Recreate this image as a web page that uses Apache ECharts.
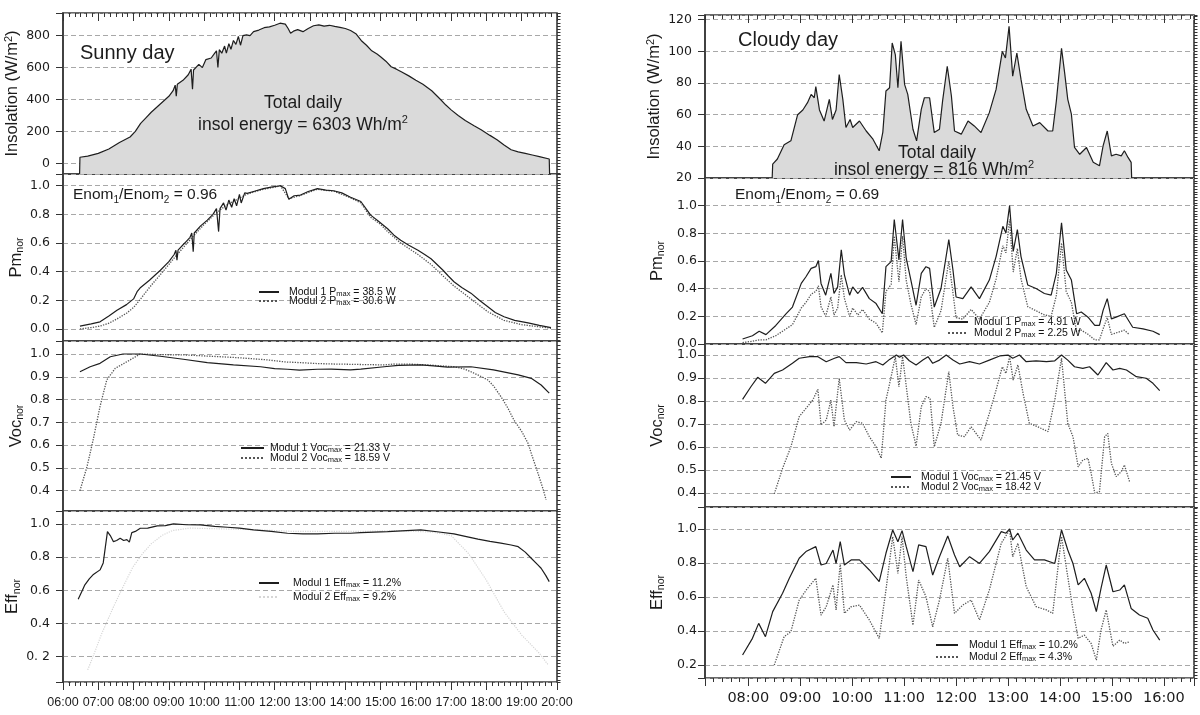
<!DOCTYPE html>
<html>
<head>
<meta charset="utf-8">
<script src="https://cdn.jsdelivr.net/npm/echarts@6/dist/echarts.min.js"></script>
<style>
  html, body { margin: 0; background: #fff; }
  #chart { width: 1200px; height: 715px; }
</style>
</head>
<body>
<div id="chart"></div>
<script>
// ---- data (hour of day, value) ----
const sunnyTimes = ['06:00', '07:00', '08:00', '09:00', '10:00', '11:00', '12:00', '13:00', '14:00', '15:00', '16:00', '17:00', '18:00', '19:00', '20:00']
const cloudyTimes = ['08:00', '09:00', '10:00', '11:00', '12:00', '13:00', '14:00', '15:00', '16:00']

const insolTicksSunny = ['0', '200', '400', '600', '800']
const insolTicksCloudy = ['20', '40', '60', '80', '100', '120']
const pmTicks = ['0.0', '0.2', '0.4', '0.6', '0.8', '1.0']
const vocTicks = ['0.4', '0.5', '0.6', '0.7', '0.8', '0.9', '1.0']
const effTicksSunny = ['0. 2', '0.4', '0.6', '0.8', '1.0']
const effTicksCloudy = ['0.2', '0.4', '0.6', '0.8', '1.0']

const sunnyInsol = [[6.47,-67],[6.48,38],[6.7,45],[7.0,62],[7.3,90],[7.6,130],[7.9,165],[8.05,200],[8.2,250],[8.35,285],[8.5,320],[8.75,370],[9.0,420],[9.12,455],[9.18,490],[9.21,420],[9.24,495],[9.4,520],[9.55,555],[9.63,590],[9.67,465],[9.7,585],[9.85,620],[9.95,600],[10.05,650],[10.2,660],[10.3,690],[10.35,705],[10.39,600],[10.43,712],[10.5,690],[10.58,735],[10.63,690],[10.7,750],[10.76,715],[10.83,770],[10.9,745],[10.97,795],[11.03,740],[11.1,800],[11.2,805],[11.3,800],[11.4,825],[11.55,835],[11.7,850],[11.85,855],[12.0,865],[12.15,878],[12.3,872],[12.38,845],[12.45,815],[12.55,830],[12.65,838],[12.8,825],[12.95,845],[13.1,862],[13.25,868],[13.4,860],[13.55,865],[13.7,858],[13.85,852],[14.0,845],[14.15,832],[14.3,812],[14.45,770],[14.6,740],[14.75,705],[14.9,685],[15.0,668],[15.15,640],[15.3,605],[15.45,590],[15.6,572],[15.8,548],[16.0,520],[16.2,495],[16.45,455],[16.7,400],[16.85,365],[17.0,335],[17.2,300],[17.4,268],[17.65,235],[17.85,210],[18.1,175],[18.3,148],[18.5,115],[18.7,85],[18.9,72],[19.1,62],[19.3,52],[19.5,42],[19.78,27],[19.79,-67]]

const sunnyPm1 = [[6.48,0.02],[6.8,0.035],[7.05,0.05],[7.3,0.09],[7.53,0.13],[7.8,0.17],[8.0,0.21],[8.1,0.26],[8.2,0.29],[8.45,0.34],[8.76,0.41],[9.0,0.47],[9.15,0.52],[9.2,0.55],[9.23,0.48],[9.26,0.55],[9.45,0.6],[9.6,0.64],[9.65,0.67],[9.69,0.54],[9.72,0.67],[9.9,0.72],[10.09,0.76],[10.25,0.8],[10.35,0.84],[10.41,0.68],[10.45,0.84],[10.55,0.88],[10.62,0.83],[10.7,0.9],[10.78,0.85],[10.85,0.91],[10.92,0.86],[11.0,0.94],[11.05,0.88],[11.15,0.95],[11.22,0.947],[11.4,0.96],[11.68,0.98],[11.9,0.99],[12.16,1.0],[12.3,0.98],[12.4,0.905],[12.55,0.93],[12.73,0.935],[12.95,0.96],[13.21,0.98],[13.45,0.97],[13.67,0.965],[13.9,0.95],[14.15,0.92],[14.44,0.89],[14.72,0.795],[14.95,0.75],[15.2,0.7],[15.38,0.655],[15.57,0.62],[15.8,0.585],[16.06,0.55],[16.25,0.52],[16.43,0.49],[16.6,0.45],[16.77,0.41],[16.92,0.37],[17.08,0.33],[17.3,0.29],[17.56,0.25],[17.8,0.2],[18.04,0.155],[18.25,0.115],[18.5,0.085],[18.8,0.06],[19.18,0.042],[19.5,0.025],[19.83,0.01]]
const sunnyPm2 = [[6.48,0.0],[6.8,0.01],[7.05,0.02],[7.3,0.04],[7.53,0.07],[7.8,0.11],[8.0,0.15],[8.2,0.21],[8.45,0.29],[8.76,0.38],[9.0,0.45],[9.2,0.51],[9.45,0.58],[9.7,0.65],[10.0,0.73],[10.3,0.8],[10.6,0.86],[10.9,0.9],[11.2,0.94],[11.6,0.97],[12.0,0.99],[12.16,1.0],[12.4,0.91],[12.7,0.93],[13.2,0.975],[13.7,0.96],[14.15,0.915],[14.44,0.88],[14.72,0.78],[15.0,0.73],[15.2,0.68],[15.57,0.6],[16.06,0.52],[16.43,0.45],[16.77,0.37],[17.08,0.3],[17.56,0.21],[18.04,0.12],[18.5,0.06],[19.0,0.03],[19.5,0.015],[19.83,0.005]]

const sunnyVoc1 = [[6.48,0.922],[6.77,0.944],[7.05,0.959],[7.34,0.988],[7.7,1.0],[8.19,1.0],[8.76,0.99],[9.41,0.977],[10.09,0.962],[10.83,0.952],[11.6,0.944],[12.0,0.936],[12.36,0.933],[12.7,0.929],[13.21,0.933],[13.6,0.934],[14.15,0.93],[14.44,0.934],[15.1,0.944],[15.5,0.95],[16.14,0.952],[16.5,0.948],[16.9,0.942],[17.56,0.944],[18.2,0.93],[18.9,0.908],[19.27,0.893],[19.55,0.864],[19.78,0.828]]
const sunnyVoc2 = [[6.48,0.4],[6.68,0.505],[6.85,0.62],[7.05,0.77],[7.24,0.886],[7.48,0.937],[7.81,0.966],[8.19,1.0],[8.8,0.997],[9.41,0.996],[10.2,0.99],[10.83,0.985],[11.3,0.98],[11.8,0.974],[12.3,0.965],[12.73,0.962],[13.2,0.958],[13.67,0.956],[14.4,0.954],[15.1,0.952],[15.38,0.956],[15.9,0.955],[16.34,0.952],[16.7,0.948],[17.08,0.944],[17.35,0.935],[17.56,0.922],[17.8,0.905],[18.04,0.886],[18.2,0.86],[18.41,0.813],[18.6,0.765],[18.78,0.71],[19.0,0.66],[19.18,0.608],[19.3,0.55],[19.46,0.477],[19.6,0.41],[19.69,0.36]]

const sunnyEff1 = [[6.43,0.546],[6.55,0.6],[6.62,0.633],[6.75,0.67],[6.85,0.693],[7.05,0.723],[7.14,0.765],[7.2,0.86],[7.26,0.954],[7.34,0.93],[7.43,0.893],[7.52,0.9],[7.62,0.914],[7.72,0.9],[7.81,0.905],[7.88,0.89],[7.95,0.948],[8.05,0.955],[8.19,0.974],[8.4,0.975],[8.67,0.988],[8.9,0.99],[9.13,1.0],[9.5,0.995],[9.89,0.994],[10.3,0.985],[10.66,0.98],[11.0,0.975],[11.4,0.964],[11.9,0.955],[12.36,0.944],[12.8,0.94],[13.21,0.94],[13.7,0.944],[14.15,0.944],[14.44,0.948],[15.2,0.954],[15.6,0.958],[16.14,0.964],[16.6,0.953],[17.08,0.94],[17.4,0.925],[17.76,0.908],[18.1,0.895],[18.41,0.884],[18.7,0.873],[18.9,0.863],[19.1,0.83],[19.27,0.793],[19.45,0.755],[19.55,0.733],[19.68,0.69],[19.78,0.652]]
const sunnyEff2 = [[6.7,0.12],[6.85,0.2],[7.1,0.34],[7.43,0.5],[7.7,0.62],[7.98,0.74],[8.25,0.82],[8.5,0.88],[8.8,0.93],[9.1,0.96],[9.6,0.975],[10.5,0.97],[11.5,0.965],[12.5,0.955],[13.5,0.955],[14.5,0.955],[15.5,0.96],[16.5,0.95],[17.0,0.93],[17.5,0.82],[18.0,0.66],[18.5,0.47],[19.0,0.33],[19.5,0.22],[19.75,0.15]]

const cloudyInsol = [[8.46,20],[8.47,28.8],[8.56,32],[8.69,41],[8.82,43.5],[8.95,60],[9.05,63],[9.14,67.6],[9.21,72.8],[9.27,70.7],[9.3,77.7],[9.37,63],[9.46,56],[9.56,69.7],[9.62,57],[9.69,63],[9.75,85.4],[9.82,69.7],[9.88,51.9],[9.96,57],[10.01,51.9],[10.14,56],[10.27,49.7],[10.4,44.5],[10.52,37.2],[10.59,49],[10.65,75],[10.72,77],[10.77,105.3],[10.83,98],[10.88,77],[10.94,106.4],[11.01,79],[11.07,72.8],[11.17,50.8],[11.24,43.5],[11.33,63.4],[11.39,70.7],[11.49,70.7],[11.58,48.7],[11.68,50.8],[11.74,68.6],[11.83,90.6],[11.91,71.8],[11.97,49.7],[12.1,47.7],[12.23,56],[12.35,52.9],[12.48,48.7],[12.64,61.3],[12.77,76],[12.89,100],[12.95,95.9],[13.02,115.8],[13.09,84.3],[13.17,99],[13.25,82.3],[13.35,63.4],[13.48,52.9],[13.61,55],[13.77,49.7],[13.86,49.7],[13.93,68.6],[14.03,102],[14.09,86.4],[14.15,69.7],[14.22,60.3],[14.28,39.3],[14.38,35],[14.51,39.3],[14.64,29.9],[14.76,27.7],[14.83,40.3],[14.91,49.7],[14.99,34],[15.08,35],[15.18,34],[15.24,37.2],[15.31,33],[15.37,29.9],[15.38,20]]

const cloudyPm1 = [[7.89,0.036],[8.08,0.06],[8.21,0.092],[8.34,0.068],[8.53,0.134],[8.73,0.219],[8.85,0.267],[9.02,0.438],[9.11,0.486],[9.21,0.547],[9.3,0.559],[9.35,0.603],[9.4,0.438],[9.49,0.353],[9.59,0.511],[9.65,0.365],[9.72,0.413],[9.79,0.681],[9.85,0.5],[9.95,0.353],[10.01,0.413],[10.11,0.365],[10.2,0.409],[10.33,0.328],[10.46,0.292],[10.58,0.219],[10.65,0.559],[10.75,0.596],[10.81,0.9],[10.9,0.608],[10.97,0.9],[11.04,0.62],[11.13,0.462],[11.23,0.28],[11.33,0.511],[11.42,0.559],[11.49,0.547],[11.58,0.267],[11.71,0.401],[11.86,0.754],[11.94,0.535],[12.0,0.34],[12.13,0.328],[12.29,0.413],[12.45,0.328],[12.64,0.462],[12.77,0.632],[12.9,0.851],[12.96,0.803],[13.03,1.0],[13.1,0.669],[13.18,0.827],[13.25,0.632],[13.38,0.426],[13.54,0.401],[13.7,0.365],[13.83,0.353],[13.93,0.511],[14.03,0.876],[14.12,0.535],[14.22,0.462],[14.32,0.219],[14.41,0.231],[14.54,0.194],[14.67,0.134],[14.76,0.134],[14.83,0.243],[14.91,0.328],[14.99,0.182],[15.08,0.194],[15.24,0.219],[15.4,0.121],[15.6,0.109],[15.79,0.092],[15.92,0.068]]
const cloudyPm2 = [[7.89,0.01],[8.08,0.02],[8.21,0.03],[8.34,0.03],[8.53,0.06],[8.73,0.11],[8.85,0.14],[9.02,0.26],[9.11,0.3],[9.21,0.36],[9.3,0.38],[9.35,0.42],[9.4,0.27],[9.49,0.2],[9.59,0.34],[9.65,0.21],[9.72,0.26],[9.79,0.5],[9.85,0.33],[9.95,0.2],[10.01,0.26],[10.11,0.21],[10.2,0.25],[10.33,0.18],[10.46,0.15],[10.58,0.08],[10.65,0.38],[10.75,0.43],[10.81,0.78],[10.9,0.45],[10.97,0.78],[11.04,0.46],[11.13,0.29],[11.23,0.14],[11.33,0.34],[11.42,0.4],[11.49,0.38],[11.58,0.12],[11.71,0.24],[11.86,0.6],[11.94,0.37],[12.0,0.19],[12.13,0.18],[12.29,0.25],[12.45,0.18],[12.64,0.3],[12.77,0.47],[12.9,0.71],[12.96,0.66],[13.03,0.9],[13.1,0.52],[13.18,0.69],[13.25,0.47],[13.38,0.27],[13.54,0.24],[13.7,0.21],[13.83,0.2],[13.93,0.35],[14.03,0.73],[14.12,0.38],[14.22,0.3],[14.32,0.09],[14.41,0.1],[14.54,0.07],[14.67,0.03],[14.76,0.03],[14.83,0.11],[14.91,0.19],[14.99,0.07],[15.08,0.08],[15.24,0.1],[15.33,0.07]]

const cloudyVoc1 = [[7.89,0.807],[8.05,0.862],[8.18,0.903],[8.33,0.877],[8.5,0.92],[8.66,0.935],[8.85,0.964],[8.98,0.986],[9.18,0.993],[9.34,0.993],[9.5,0.971],[9.66,0.986],[9.75,0.993],[9.88,0.967],[10.08,0.967],[10.27,0.961],[10.46,0.971],[10.59,0.957],[10.72,0.981],[10.85,1.0],[10.91,0.99],[10.99,1.0],[11.1,0.975],[11.23,0.957],[11.36,0.978],[11.46,0.993],[11.55,0.964],[11.68,0.978],[11.81,1.0],[11.94,0.978],[12.07,0.961],[12.26,0.971],[12.45,0.961],[12.64,0.978],[12.84,0.996],[13.0,1.0],[13.09,0.986],[13.22,1.0],[13.35,0.971],[13.54,0.975],[13.74,0.971],[13.9,0.975],[14.03,1.0],[14.15,0.978],[14.28,0.949],[14.44,0.942],[14.57,0.949],[14.73,0.913],[14.89,0.967],[15.02,0.935],[15.15,0.942],[15.28,0.935],[15.47,0.906],[15.66,0.899],[15.79,0.877],[15.92,0.845]]
const cloudyVoc2 = [[8.5,0.396],[8.66,0.507],[8.82,0.601],[8.98,0.732],[9.11,0.768],[9.24,0.804],[9.34,0.851],[9.4,0.696],[9.5,0.717],[9.59,0.804],[9.65,0.688],[9.75,0.899],[9.85,0.717],[9.95,0.674],[10.08,0.71],[10.2,0.703],[10.33,0.645],[10.46,0.601],[10.56,0.551],[10.65,0.804],[10.75,0.906],[10.83,0.993],[10.9,0.862],[10.97,0.993],[11.05,0.848],[11.13,0.703],[11.23,0.604],[11.33,0.775],[11.42,0.819],[11.5,0.812],[11.58,0.601],[11.71,0.703],[11.86,0.928],[11.94,0.775],[12.03,0.652],[12.16,0.645],[12.29,0.688],[12.48,0.63],[12.64,0.746],[12.77,0.848],[12.89,0.949],[12.96,0.92],[13.03,0.993],[13.1,0.891],[13.19,0.957],[13.29,0.833],[13.41,0.703],[13.57,0.688],[13.77,0.667],[13.9,0.804],[14.03,0.986],[14.15,0.703],[14.25,0.645],[14.35,0.514],[14.44,0.543],[14.54,0.551],[14.6,0.486],[14.67,0.399],[14.76,0.406],[14.86,0.645],[14.92,0.659],[14.99,0.529],[15.08,0.471],[15.18,0.493],[15.24,0.522],[15.34,0.449]]

const cloudyEff1 = [[7.89,0.259],[8.08,0.357],[8.2,0.445],[8.33,0.367],[8.47,0.514],[8.66,0.622],[8.79,0.71],[8.98,0.828],[9.11,0.867],[9.3,0.896],[9.4,0.788],[9.5,0.797],[9.63,0.876],[9.69,0.797],[9.77,0.925],[9.85,0.788],[9.98,0.818],[10.14,0.818],[10.33,0.759],[10.52,0.69],[10.65,0.857],[10.78,0.994],[10.88,0.925],[10.96,0.99],[11.04,0.896],[11.17,0.749],[11.28,0.906],[11.42,0.896],[11.55,0.729],[11.68,0.837],[11.84,0.959],[11.97,0.847],[12.07,0.778],[12.26,0.837],[12.45,0.797],[12.64,0.867],[12.87,0.984],[12.96,0.975],[13.03,1.0],[13.09,0.935],[13.19,0.975],[13.35,0.876],[13.51,0.818],[13.7,0.818],[13.9,0.797],[14.03,0.994],[14.15,0.876],[14.25,0.797],[14.35,0.671],[14.47,0.71],[14.6,0.622],[14.7,0.514],[14.79,0.651],[14.89,0.788],[15.02,0.631],[15.15,0.641],[15.24,0.671],[15.37,0.533],[15.53,0.494],[15.69,0.475],[15.79,0.406],[15.92,0.347]]
const cloudyEff2 = [[8.5,0.2],[8.69,0.367],[8.82,0.396],[8.98,0.582],[9.14,0.651],[9.3,0.71],[9.4,0.494],[9.5,0.543],[9.63,0.671],[9.69,0.524],[9.77,0.797],[9.85,0.504],[9.98,0.543],[10.14,0.553],[10.33,0.465],[10.52,0.357],[10.65,0.641],[10.78,0.955],[10.88,0.739],[10.96,0.955],[11.04,0.719],[11.17,0.435],[11.28,0.7],[11.42,0.602],[11.55,0.425],[11.68,0.582],[11.84,0.828],[11.97,0.504],[12.13,0.553],[12.29,0.582],[12.45,0.465],[12.64,0.641],[12.87,0.916],[13.03,0.994],[13.09,0.837],[13.19,0.916],[13.35,0.661],[13.54,0.543],[13.74,0.524],[13.86,0.504],[14.03,0.955],[14.15,0.719],[14.25,0.524],[14.35,0.357],[14.47,0.376],[14.6,0.327],[14.7,0.229],[14.79,0.406],[14.89,0.524],[15.02,0.31],[15.15,0.347],[15.24,0.327],[15.34,0.337]]

const sunnyPmNames = ['Modul 1 P{s|max} = 38.5 W', 'Modul 2 P{s|max} = 30.6 W']
const sunnyVocNames = ['Modul 1 Voc{s|max} = 21.33 V', 'Modul 2 Voc{s|max} = 18.59 V']
const sunnyEffNames = ['Modul 1 Eff{s|max} = 11.2%', 'Modul 2 Eff{s|max} = 9.2%']
const cloudyPmNames = ['Modul 1 P{s|max} = 4.91 W', 'Modul 2 P{s|max} = 2.25 W']
const cloudyVocNames = ['Modul 1 Voc{s|max} = 21.45 V', 'Modul 2 Voc{s|max} = 18.42 V']
const cloudyEffNames = ['Modul 1 Eff{s|max} = 10.2%', 'Modul 2 Eff{s|max} = 4.3%']

// ---- layout ----
const FONT = '"Liberation Sans", Arial, Helvetica, sans-serif'
const NUM = '"DejaVu Sans", sans-serif'
const INK = '#1c1c1c'
const GRID_C = '#a8a8a8'
const TICK_C = '#333'

// minorStep: spacing of the small ticks on the y axis
const panels = [
  { box: [63, 13, 494, 161], x: [6, 20], y: [-67, 942], minorStep: 20, ticks: insolTicksSunny, name: 'Insolation (W/m{p|2})', gap: 41, margin: 13 },
  { box: [63, 174, 494, 167], x: [6, 20], y: [-0.084, 1.082], minorStep: 0.02, ticks: pmTicks, name: 'Pm{s|nor}', gap: 37, margin: 13 },
  { box: [63, 341, 494, 170], x: [6, 20], y: [0.311, 1.057], minorStep: 0.02, ticks: vocTicks, name: 'Voc{s|nor}', gap: 37, margin: 13 },
  { box: [63, 511, 494, 171], x: [6, 20], y: [0.047, 1.078], minorStep: 0.02, ticks: effTicksSunny, name: 'Eff{s|nor}', gap: 37, margin: 13 },
  { box: [705, 15, 489, 163], x: [7.1667, 16.58], y: [20, 123], minorStep: 2, ticks: insolTicksCloudy, name: 'Insolation (W/m{p|2})', gap: 36, margin: 13 },
  { box: [705, 178, 489, 166], x: [7.1667, 16.58], y: [0, 1.2], minorStep: 0.02, ticks: pmTicks, name: 'Pm{s|nor}', gap: 38, margin: 8 },
  { box: [705, 344, 489, 163], x: [7.1667, 16.58], y: [0.339, 1.048], minorStep: 0.02, ticks: vocTicks, name: 'Voc{s|nor}', gap: 38, margin: 8 },
  { box: [705, 507, 489, 171], x: [7.1667, 16.58], y: [0.124, 1.129], minorStep: 0.02, ticks: effTicksCloudy, name: 'Eff{s|nor}', gap: 38, margin: 8 },
]

function tickFormatter(labels) {
  return v => labels.find(t => Math.abs(parseFloat(t.replace(/\s/g, '')) - v) < 1e-6) || ''
}
function timeFormatter(labels) {
  return v => labels.find(t => Math.abs(parseInt(t, 10) - v) < 1e-6) || ''
}

const nameRich = {
  s: { fontFamily: FONT, fontSize: 10.5, lineHeight: 10, color: INK, verticalAlign: 'bottom' },
  p: { fontFamily: FONT, fontSize: 11, lineHeight: 10, color: INK, verticalAlign: 'top' },
}

const grids = panels.map(p => ({
  show: true, left: p.box[0], top: p.box[1], width: p.box[2], height: p.box[3],
  borderColor: '#3a3a3a', borderWidth: 1.6, backgroundColor: 'transparent',
}))

const yAxes = panels.map((p, i) => ({
  type: 'value', gridIndex: i, min: p.y[0], max: p.y[1], splitNumber: 5,
  axisLine: { show: true, onZero: false, lineStyle: { color: '#3a3a3a', width: 1.6 } },
  axisTick: { show: true, inside: false, length: 7, lineStyle: { color: TICK_C } },
  axisLabel: { margin: p.margin, fontFamily: NUM, fontSize: 12.5, color: INK, formatter: tickFormatter(p.ticks), showMinLabel: true, showMaxLabel: true },
  splitLine: { show: true, lineStyle: { color: GRID_C, type: [5, 3], width: 1 } },
  name: p.name, nameLocation: 'middle', nameRotate: 90, nameGap: p.gap,
  nameTextStyle: { fontFamily: FONT, fontSize: 16.5, lineHeight: 19, color: INK, rich: nameRich },
}))
// small ticks on each y axis: a second, bare axis with a fine nice step
panels.forEach((p, i) => {
  yAxes.push({
    type: 'value', gridIndex: i, min: p.y[0], max: p.y[1],
    splitNumber: Math.round((p.y[1] - p.y[0]) / p.minorStep),
    axisLine: { show: false },
    axisTick: { show: true, inside: false, length: 3.5, lineStyle: { color: TICK_C } },
    axisLabel: { show: false }, splitLine: { show: false },
  })
})

const isBottom = i => i === 3 || i === 7
const xAxes = panels.map((p, i) => ({
  type: 'value', gridIndex: i, min: p.x[0], max: p.x[1],
  interval: i < 4 ? 1 : undefined, splitNumber: i < 4 ? undefined : 9,
  axisLine: { show: false, onZero: false },
  axisTick: { show: isBottom(i), inside: false, length: 8, lineStyle: { color: TICK_C } },
  axisLabel: {
    show: isBottom(i), margin: i < 4 ? 14 : 13,
    fontFamily: i < 4 ? FONT : NUM, fontSize: i < 4 ? 12.5 : 14.5, color: INK,
    formatter: timeFormatter(i < 4 ? sunnyTimes : cloudyTimes),
    showMinLabel: true, showMaxLabel: true,
  },
  splitLine: { show: false },
}))
// hour ticks hanging from the top border, plus 10-minute ticks top and bottom
;[0, 4].forEach(i => {
  const p = panels[i]
  xAxes.push({
    type: 'value', gridIndex: i, position: 'top', min: p.x[0], max: p.x[1],
    interval: i === 0 ? 1 : undefined, splitNumber: i === 0 ? undefined : 9,
    axisLine: { show: false, onZero: false },
    axisTick: { show: true, inside: true, length: 8, lineStyle: { color: TICK_C } },
    axisLabel: { show: false }, splitLine: { show: false },
  })
})
;[[0, 'top', true], [4, 'top', true], [3, 'bottom', false], [7, 'bottom', false]].forEach(([i, pos, inside]) => {
  const p = panels[i]
  xAxes.push({
    type: 'value', gridIndex: i, position: pos, min: p.x[0], max: p.x[1], interval: 1 / 6,
    axisLine: { show: false, onZero: false },
    axisTick: { show: true, inside, length: 4, lineStyle: { color: TICK_C } },
    axisLabel: { show: false }, splitLine: { show: false },
  })
})

const solid = { color: '#1e1e1e', width: 1.2 }
const dotted = { color: '#555', width: 1.3, type: 'dotted' }
const faint = { color: '#d6d6d6', width: 1.2, type: 'dotted' }

function line(idx, data, style, name, extra) {
  return Object.assign({
    type: 'line', name, xAxisIndex: idx, yAxisIndex: idx, data,
    symbol: 'none', lineStyle: style, silent: true, z: 3,
  }, extra || {})
}
const area = { areaStyle: { color: '#dadada', opacity: 1, origin: 'start' } }

const series = [
  line(0, sunnyInsol, solid, 'sunnyInsol', area),
  line(1, sunnyPm2, dotted, sunnyPmNames[1]),
  line(1, sunnyPm1, solid, sunnyPmNames[0]),
  line(2, sunnyVoc2, dotted, sunnyVocNames[1]),
  line(2, sunnyVoc1, solid, sunnyVocNames[0]),
  line(3, sunnyEff2, faint, sunnyEffNames[1]),
  line(3, sunnyEff1, solid, sunnyEffNames[0]),
  line(4, cloudyInsol, solid, 'cloudyInsol', area),
  line(5, cloudyPm2, dotted, cloudyPmNames[1]),
  line(5, cloudyPm1, solid, cloudyPmNames[0]),
  line(6, cloudyVoc2, dotted, cloudyVocNames[1]),
  line(6, cloudyVoc1, solid, cloudyVocNames[0]),
  line(7, cloudyEff2, dotted, cloudyEffNames[1]),
  line(7, cloudyEff1, solid, cloudyEffNames[0]),
]

function legend(names, left, top, iconW, pad, gap) {
  return {
    data: names, left, top, orient: 'vertical', selectedMode: false,
    itemWidth: iconW, itemHeight: 10, itemGap: gap, padding: 0,
    itemStyle: { opacity: 0, color: 'rgba(0,0,0,0)', borderWidth: 0 },
    textStyle: {
      fontFamily: FONT, fontSize: 10.5, lineHeight: 12, color: '#111', padding: [0, 0, 0, pad],
      rich: { s: { fontFamily: FONT, fontSize: 7.5, lineHeight: 7, color: '#111', verticalAlign: 'bottom' } },
    },
  }
}

const textRich = {
  s: { fontFamily: FONT, fontSize: 10, lineHeight: 10, fill: INK, verticalAlign: 'bottom' },
  p: { fontFamily: FONT, fontSize: 11, lineHeight: 11, fill: INK, verticalAlign: 'top' },
}
function label(text, x, y, size, align) {
  return {
    type: 'text', x, y, z: 10, silent: true,
    style: { text, font: size + 'px ' + FONT, fill: INK, align: align || 'left', verticalAlign: 'middle', lineHeight: size + 4, rich: textRich },
  }
}

const chart = echarts.init(document.getElementById('chart'))
chart.setOption({
  animation: false,
  backgroundColor: '#fff',
  grid: grids,
  xAxis: xAxes,
  yAxis: yAxes,
  legend: [
    legend(sunnyPmNames, 258, 286, 20, 5, -3),
    legend(sunnyVocNames, 240, 442, 23, 1, -2),
    legend(sunnyEffNames, 258, 577, 20, 9, 2),
    legend(cloudyPmNames, 947, 316, 20, 1, -1),
    legend(cloudyVocNames, 890, 471, 20, 5, -2),
    legend(cloudyEffNames, 935, 639, 22, 6, 0),
  ],
  series,
  graphic: [
    label('Sunny day', 80, 53, 20),
    label('Total daily', 303, 103, 17.5, 'center'),
    label('insol energy = 6303 Wh/m{p|2}', 303, 125, 17.5, 'center'),
    label('Enom{s|1}/Enom{s|2} = 0.96', 73, 195, 15.5),
    label('Cloudy day', 738, 40, 20),
    label('Total daily', 937, 153, 17.5, 'center'),
    label('insol energy = 816 Wh/m{p|2}', 934, 170, 17.5, 'center'),
    label('Enom{s|1}/Enom{s|2} = 0.69', 735, 195, 15.5),
  ],
})
</script>
</body>
</html>
